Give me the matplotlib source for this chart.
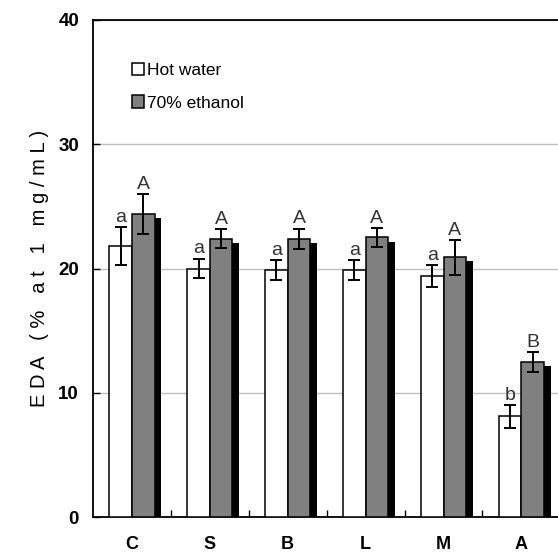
import matplotlib
matplotlib.use("Agg")
import matplotlib.pyplot as plt
import numpy as np
from matplotlib.patches import Patch

plt.rcParams["font.family"] = ["Liberation Sans", "DejaVu Sans"]

categories = ["C", "S", "B", "L", "M", "A"]
hot_water = [21.8, 20.0, 19.9, 19.9, 19.4, 8.1]
hot_water_err = [1.5, 0.8, 0.8, 0.8, 0.9, 0.9]
ethanol = [24.4, 22.4, 22.4, 22.5, 20.9, 12.5]
ethanol_err = [1.6, 0.75, 0.8, 0.75, 1.4, 0.8]
hot_letters = ["a", "a", "a", "a", "a", "b"]
eth_letters = ["A", "A", "A", "A", "A", "B"]

x = np.arange(len(categories))
w = 0.29
shadow_dx = 0.085
shadow_dy = 0.33

fig = plt.figure(figsize=(5.58, 5.55), dpi=100)
ax = fig.add_axes([93 / 558, 38 / 555, 1 - 93 / 558, 497 / 555])

ax.set_ylim(0, 40)
ax.set_xlim(-0.5, 5.47)
ax.set_yticks([0, 10, 20, 30, 40])
ax.yaxis.grid(True, color="#c0c0c0", lw=1)
ax.set_axisbelow(True)

xh = x - w / 2
xe = x + w / 2

# black drop shadows behind the bars
for xs, vals in [(xh, hot_water), (xe, ethanol)]:
    ax.bar(xs + shadow_dx, np.array(vals) - shadow_dy, w, color="black",
           edgecolor="black", lw=0, zorder=2)

ax.bar(xh, hot_water, w, color="white", edgecolor="black", lw=1.1, zorder=3)
ax.bar(xe, ethanol, w, color="#808080", edgecolor="black", lw=1.1, zorder=3)

ax.errorbar(xh, hot_water, yerr=hot_water_err, fmt="none", ecolor="black",
            elinewidth=1.4, capsize=4.3, capthick=1.4, zorder=4)
ax.errorbar(xe, ethanol, yerr=ethanol_err, fmt="none", ecolor="black",
            elinewidth=1.4, capsize=4.3, capthick=1.4, zorder=4)

for i in range(len(categories)):
    ax.text(xh[i], hot_water[i] + hot_water_err[i] + 0.1, hot_letters[i],
            ha="center", va="bottom", fontsize=14, color="#333333")
    ax.text(xe[i], ethanol[i] + ethanol_err[i] + 0.1, eth_letters[i],
            ha="center", va="bottom", fontsize=14, color="#333333")

ax.set_xticks(x)
ax.set_xticklabels(categories, fontsize=13, fontweight="bold")
ax.set_xticks(np.arange(0.5, len(categories) - 0.5, 1), minor=True)
ax.tick_params(axis="x", which="major", length=0, pad=14)
ax.tick_params(axis="x", which="minor", direction="in", length=5, width=1)
ax.tick_params(axis="y", direction="in", length=5, width=1, pad=10)
for lab in ax.get_yticklabels():
    lab.set_fontsize(13.5)
    lab.set_fontweight("bold")

ax.spines["right"].set_visible(False)
for s in ["left", "bottom", "top"]:
    ax.spines[s].set_linewidth(1.3)

# letter-spaced axis title
ylabel = "   ".join(" ".join(word) for word in "EDA (% at 1 mg/mL)".split(" "))
ax.set_ylabel(ylabel, fontsize=14.5, labelpad=7)

handles = [Patch(facecolor="white", edgecolor="black", lw=1.1, label="Hot water"),
           Patch(facecolor="#808080", edgecolor="black", lw=1.1, label="70% ethanol")]
ax.legend(handles=handles, loc="upper left", bbox_to_anchor=(0.05, 0.945),
          frameon=False, fontsize=12.5, handlelength=0.7, handleheight=0.7,
          handletextpad=0.15, labelspacing=1.0)

fig.savefig("out.png", dpi=100)
